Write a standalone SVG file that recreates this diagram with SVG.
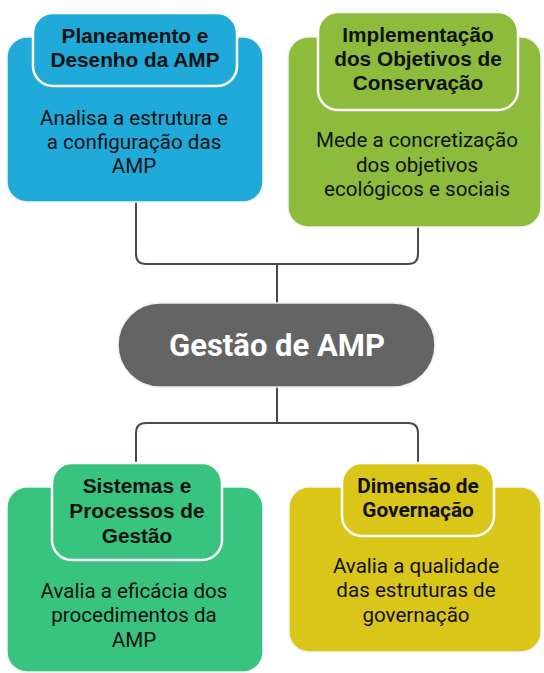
<svg xmlns="http://www.w3.org/2000/svg" width="544" height="673" viewBox="0 0 544 673">
<style>
.outer{stroke:#f2f2f2;stroke-width:1.5}
.head{stroke:#ffffff;stroke-width:2.5}
.ht{font-family:"Liberation Sans",Arial,sans-serif;font-weight:bold;font-size:20.8px;fill:#111;text-anchor:middle}
.htr{font-family:Roboto,"Liberation Sans",sans-serif;font-weight:bold;font-size:20.8px;fill:#111;text-anchor:middle}
.bt{font-family:Roboto,"Liberation Sans",sans-serif;font-size:20.6px;fill:#111;text-anchor:middle}
.conn{fill:none;stroke:#4a4a4a;stroke-width:2}
</style>
<rect width="544" height="673" fill="#ffffff"/>
<g id="connectors">
<path class="conn" d="M136,202 V254 Q136,264 146,264 H408 Q418,264 418,254 V227"/>
<path class="conn" d="M277,264 V303"/>
<path class="conn" d="M277,387 V423"/>
<path class="conn" d="M136,463 V433 Q136,423 146,423 H408 Q418,423 418,433 V463"/>
</g>
<g id="planeamento">
<rect class="outer" x="7" y="37" width="256" height="165" rx="20" fill="#1FAAD9"/>
<rect class="head" x="33" y="13" width="204" height="73" rx="20" fill="#1FAAD9"/>
<text class="ht" x="135" y="43">Planeamento e</text>
<text class="ht" x="135" y="67">Desenho da AMP</text>
<text class="bt" x="134" y="125">Analisa a estrutura e</text>
<text class="bt" x="134" y="149">a configuração das</text>
<text class="bt" x="134" y="173">AMP</text>
</g>
<g id="implementacao">
<rect class="outer" x="288" y="37" width="253" height="190" rx="20" fill="#8DBB3B"/>
<rect class="head" x="318" y="12" width="200" height="98" rx="20" fill="#8DBB3B"/>
<text class="ht" x="418" y="42">Implementação</text>
<text class="ht" x="418" y="66">dos Objetivos de</text>
<text class="ht" x="418" y="90">Conservação</text>
<text class="bt" x="417" y="147">Mede a concretização</text>
<text class="bt" x="417" y="172">dos objetivos</text>
<text class="bt" x="417" y="196">ecológicos e sociais</text>
</g>
<g id="gestao">
<rect x="118" y="303" width="317" height="84" rx="42" fill="#646464" stroke="#eeeeee" stroke-width="1.5"/>
<text x="277" y="356" font-family="Roboto,'Liberation Sans',sans-serif" font-weight="bold" font-size="31" fill="#ffffff" text-anchor="middle">Gestão de AMP</text>
</g>
<g id="sistemas">
<rect class="outer" x="7" y="487" width="256" height="185" rx="20" fill="#38C47F"/>
<rect class="head" x="52" y="463" width="170" height="97" rx="20" fill="#38C47F"/>
<text class="ht" x="137" y="493">Sistemas e</text>
<text class="ht" x="137" y="518">Processos de</text>
<text class="ht" x="137" y="543">Gestão</text>
<text class="bt" x="134" y="598">Avalia a eficácia dos</text>
<text class="bt" x="134" y="622">procedimentos da</text>
<text class="bt" x="134" y="647">AMP</text>
</g>
<g id="governacao">
<rect class="outer" x="289" y="487" width="252" height="165" rx="20" fill="#DAC619"/>
<rect class="head" x="342" y="463" width="152" height="73" rx="20" fill="#DAC619"/>
<text class="htr" x="418" y="493">Dimensão de</text>
<text class="htr" x="418" y="517">Governação</text>
<text class="bt" x="416" y="573">Avalia a qualidade</text>
<text class="bt" x="416" y="597">das estruturas de</text>
<text class="bt" x="416" y="622">governação</text>
</g>
</svg>
